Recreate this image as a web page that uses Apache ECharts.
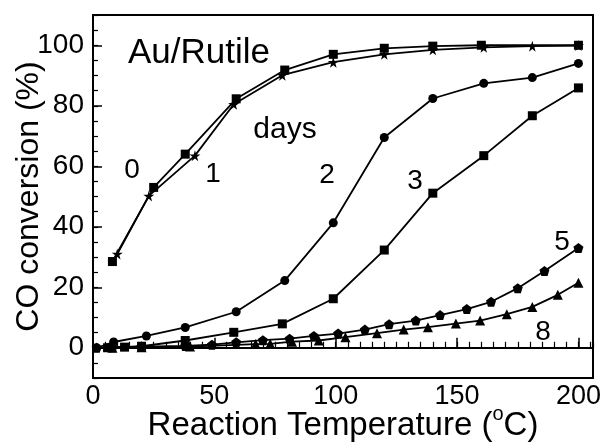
<!DOCTYPE html>
<html>
<head>
<meta charset="utf-8">
<script src="https://cdn.jsdelivr.net/npm/echarts@6/dist/echarts.min.js"></script>
<style>
  html, body { margin: 0; padding: 0; background: #fff; }
  #main { width: 605px; height: 446px; }
</style>
</head>
<body>
<div id="main"></div>
<script>
// [temperature (°C), CO conversion (%)]
var day0 = [[8, 28.5], [25, 53], [38, 64], [59, 82.3], [79, 91.8], [99, 97], [120, 99], [140, 99.7], [160, 100], [200, 100]];
var day1 = [[10, 31], [23, 50.2], [42, 63.5], [58, 80.5], [78, 90.1], [99, 94.4], [120, 97], [140, 98.5], [161, 99.3], [181, 99.7], [200, 99.9]];
var day2 = [[1.5, 0], [8.5, 1.9], [22, 3.9], [38, 6.7], [59, 11.9], [79, 22.2], [99, 41.3], [120, 69.5], [140, 82.4], [161, 87.4], [181, 89.3], [200, 94]];
var day3 = [[6, 0], [13, 0.2], [20, 0.5], [38, 2.4], [58, 5.1], [78, 7.9], [99, 16.2], [120, 32.3], [140, 51.1], [161, 63.5], [181, 76.7], [200, 85.9]];
var day5 = [[1.5, 0], [8, 0.2], [20, 0.4], [38, 0.6], [49, 1.0], [59, 1.8], [70, 2.5], [81, 3.0], [91, 3.9], [101, 4.7], [112, 6.0], [122, 7.8], [133, 9.0], [143, 10.8], [154, 12.8], [164, 15.2], [175, 19.7], [186, 25.4], [200, 33]];
var day8 = [[8, 0], [20, 0.2], [40, 0.4], [67, 1.2], [73, 1.3], [82, 2], [93, 2.4], [104, 3.5], [117, 4.8], [128, 6], [138, 6.8], [149.5, 8], [159.5, 9], [170.5, 11.1], [181, 13.5], [191.5, 17.5], [200, 21.5]];

var xTicks = [0, 50, 100, 150, 200];
var yTicks = [0, 20, 40, 60, 80, 100];

var font = '"Liberation Sans", Arial, sans-serif';
var star = 'path://M50,0 L61,35 L98,35 L68,57 L79,91 L50,70 L21,91 L32,57 L2,35 L39,35 Z';
var pentagon = 'path://M50,0 L100,38 L81,100 L19,100 L0,38 Z';

function line(data, symbol, size) {
  return {
    type: 'line',
    data: data,
    symbol: symbol,
    symbolSize: size,
    lineStyle: { color: '#000', width: 1.8 },
    itemStyle: { color: '#000' },
    animation: false
  };
}

var chart = echarts.init(document.getElementById('main'));
chart.setOption({
  backgroundColor: '#fff',
  grid: { left: 93, right: 12, top: 15, bottom: 68, outerBoundsMode: 'none', containLabel: false, show: true, borderColor: '#000', borderWidth: 2 },
  xAxis: [
    {
      type: 'value', min: 0, max: 206, position: 'bottom',
      name: 'Reaction Temperature ({sup|o}C)', nameLocation: 'middle', nameGap: 26, nameMoveOverlap: false,
      nameTextStyle: {
        fontFamily: font, fontSize: 33, color: '#000', lineHeight: 44,
        rich: { sup: { fontFamily: font, fontSize: 20, color: '#000', lineHeight: 22, verticalAlign: 'top' } }
      },
      axisLine: { lineStyle: { color: '#000', width: 2 } },
      axisTick: { inside: true, length: 10, customValues: xTicks, lineStyle: { color: '#000', width: 1.5 } },
      axisLabel: { customValues: xTicks, margin: 5, fontFamily: font, fontSize: 27, color: '#000' },
      splitLine: { show: false }
    },
    {
      type: 'value', min: 0, max: 206, interval: 5, position: 'bottom',
      axisLine: { show: false },
      axisTick: { inside: true, length: 6, lineStyle: { color: '#000', width: 1.2 } },
      axisLabel: { show: false },
      splitLine: { show: false }
    },
    {
      type: 'value', min: 0, max: 206, position: 'top',
      axisLine: { lineStyle: { color: '#000', width: 2 } },
      axisTick: { show: false }, axisLabel: { show: false }, splitLine: { show: false }
    }
  ],
  yAxis: [
    {
      type: 'value', min: -10, max: 110, position: 'left',
      name: 'CO conversion (%)', nameLocation: 'middle', nameGap: 48, nameMoveOverlap: false,
      nameTextStyle: { fontFamily: font, fontSize: 32, color: '#000' },
      axisLine: { lineStyle: { color: '#000', width: 2 } },
      axisTick: { inside: true, length: 9, customValues: yTicks, lineStyle: { color: '#000', width: 1.5 } },
      axisLabel: { customValues: yTicks, margin: 9, fontFamily: font, fontSize: 28, color: '#000' },
      splitLine: { show: false }
    },
    {
      type: 'value', min: -10, max: 110, interval: 5, position: 'left',
      axisLine: { show: false },
      axisTick: { inside: true, length: 5, lineStyle: { color: '#000', width: 1.2 } },
      axisLabel: { show: false },
      splitLine: { show: false }
    },
    {
      type: 'value', min: -10, max: 110, interval: 5, position: 'right',
      axisLine: { lineStyle: { color: '#000', width: 2 } },
      axisTick: { inside: false, length: 3, lineStyle: { color: '#000', width: 1 } },
      axisLabel: { show: false },
      splitLine: { show: false }
    }
  ],
  series: [
    line(day8, 'triangle', 10),
    line(day5, pentagon, 10),
    line(day3, 'rect', 9),
    line(day2, 'circle', 9),
    line(day1, star, 11),
    line(day0, 'rect', 9)
  ],
  graphic: [
    { type: 'text', x: 199, y: 53, style: { text: 'Au/Rutile', font: '35px ' + font, fill: '#000', align: 'center', verticalAlign: 'middle' } },
    { type: 'text', x: 285, y: 130, style: { text: 'days', font: '30px ' + font, fill: '#000', align: 'center', verticalAlign: 'middle' } },
    { type: 'text', x: 132, y: 170, style: { text: '0', font: '28px ' + font, fill: '#000', align: 'center', verticalAlign: 'middle' } },
    { type: 'text', x: 213, y: 174, style: { text: '1', font: '28px ' + font, fill: '#000', align: 'center', verticalAlign: 'middle' } },
    { type: 'text', x: 327, y: 175, style: { text: '2', font: '28px ' + font, fill: '#000', align: 'center', verticalAlign: 'middle' } },
    { type: 'text', x: 415, y: 181, style: { text: '3', font: '28px ' + font, fill: '#000', align: 'center', verticalAlign: 'middle' } },
    { type: 'text', x: 562, y: 242, style: { text: '5', font: '28px ' + font, fill: '#000', align: 'center', verticalAlign: 'middle' } },
    { type: 'text', x: 543, y: 332, style: { text: '8', font: '28px ' + font, fill: '#000', align: 'center', verticalAlign: 'middle' } }
  ]
});
</script>
</body>
</html>
